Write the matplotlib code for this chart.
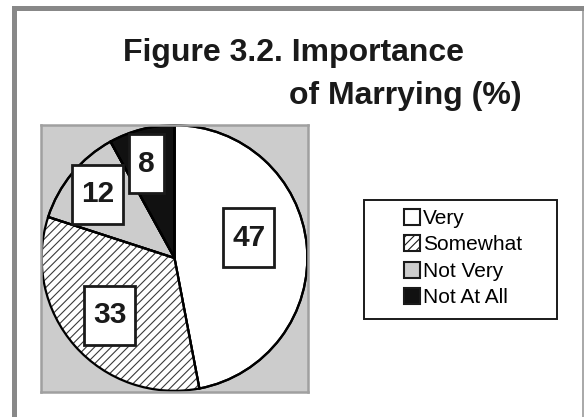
import matplotlib
matplotlib.use("Agg")
import matplotlib.pyplot as plt
import numpy as np
from matplotlib.patches import Rectangle, Patch, Wedge
from matplotlib.path import Path

plt.rcParams['font.family'] = ['Liberation Sans', 'DejaVu Sans']
plt.rcParams['hatch.linewidth'] = 0.8

# data
categories = ["Very", "Somewhat", "Not Very", "Not At All"]
values = [47, 33, 12, 8]
colors = ["white", "white", "#cccccc", "#111111"]
hatches = [None, "////", None, None]

# label placement (fraction of radius, angle nudge in degrees)
label_r = [0.58, 0.65, 0.75, 0.74]
label_nudge = [10, 0, 0, 2]

W, H = 584, 417
fig = plt.figure(figsize=(W / 100, H / 100), dpi=100)
fig.patch.set_facecolor("white")

# outer frame: thick grey top/left, thin right
fig.add_artist(Rectangle((12 / W, 0), 5 / W, 411 / H, transform=fig.transFigure,
                         facecolor="#888888", edgecolor="none"))
fig.add_artist(Rectangle((12 / W, 1 - 11 / H), 1 - 12 / W, 5 / H, transform=fig.transFigure,
                         facecolor="#888888", edgecolor="none"))
fig.add_artist(Rectangle((582 / W, 0), 1.5 / W, 1 - 11 / H, transform=fig.transFigure,
                         facecolor="#aaaaaa", edgecolor="none"))

# title
fig.text(123 / W, 1 - 61 / H, "Figure 3.2. Importance", fontsize=23, fontweight="bold",
         color="#1a1a1a", ha="left", va="baseline")
fig.text(289 / W, 1 - 104 / H, "of Marrying (%)", fontsize=23, fontweight="bold",
         color="#1a1a1a", ha="left", va="baseline")

# pie area
ax = fig.add_axes([41 / W, 1 - 392 / H, 267 / W, 268 / H])

wedges, _ = ax.pie(values, colors=colors, startangle=90, counterclock=False,
                   radius=1.0, wedgeprops=dict(edgecolor="black", linewidth=1.6))
ax.set_frame_on(True)
ax.set_facecolor("#cccccc")
for s in ax.spines.values():
    s.set_visible(True)
    s.set_edgecolor("#a0a0a0")
    s.set_linewidth(1.8)
ax.set_xticks([])
ax.set_yticks([])

for w, h in zip(wedges, hatches):
    if h:
        w.set_hatch(h)
        w.set_edgecolor("#3a3a3a")
        w.set_linewidth(0)
# black outlines over hatched wedges
for w in wedges:
    ax.add_patch(Wedge(w.center, w.r, w.theta1, w.theta2, facecolor="none",
                       edgecolor="black", linewidth=1.6))
ax.set_xlim(-1.005, 1.005)
ax.set_ylim(-1.005, 1.005)
ax.set_aspect("equal")


def tall_box(x0, y0, width, height, mutation_size):
    # fixed-height box with modest side padding
    padx = 9.0
    boxh = 59.0
    cy = y0 + height / 2
    x0, x1 = x0 - padx, x0 + width + padx
    y0, y1 = cy - boxh / 2, cy + boxh / 2
    return Path([(x0, y0), (x1, y0), (x1, y1), (x0, y1), (x0, y0)],
                [Path.MOVETO, Path.LINETO, Path.LINETO, Path.LINETO, Path.CLOSEPOLY])


for w, v, r, d in zip(wedges, values, label_r, label_nudge):
    ang = np.deg2rad((w.theta1 + w.theta2) / 2 + d)
    ax.text(r * np.cos(ang), r * np.sin(ang), str(v), fontsize=21.5, fontweight="bold",
            color="#1a1a1a", ha="center", va="center",
            bbox=dict(boxstyle=tall_box, facecolor="white", edgecolor="#1a1a1a",
                      linewidth=2.0))

# legend
fig.add_artist(Rectangle((364 / W, 1 - 319 / H), 193 / W, 119 / H, transform=fig.transFigure,
                         facecolor="white", edgecolor="#1a1a1a", linewidth=1.4))
handles = []
for c, h in zip(colors, hatches):
    handles.append(Patch(facecolor=c, edgecolor="#1a1a1a", hatch=h, linewidth=1.5))
leg = fig.legend(handles, categories, loc="center", bbox_to_anchor=(463 / W, 1 - 258 / H),
                 frameon=False, fontsize=15, handlelength=0.8, handleheight=0.8,
                 handletextpad=0.15, labelspacing=0.35, borderpad=0)

fig.savefig("out.png", dpi=100, facecolor="white")
